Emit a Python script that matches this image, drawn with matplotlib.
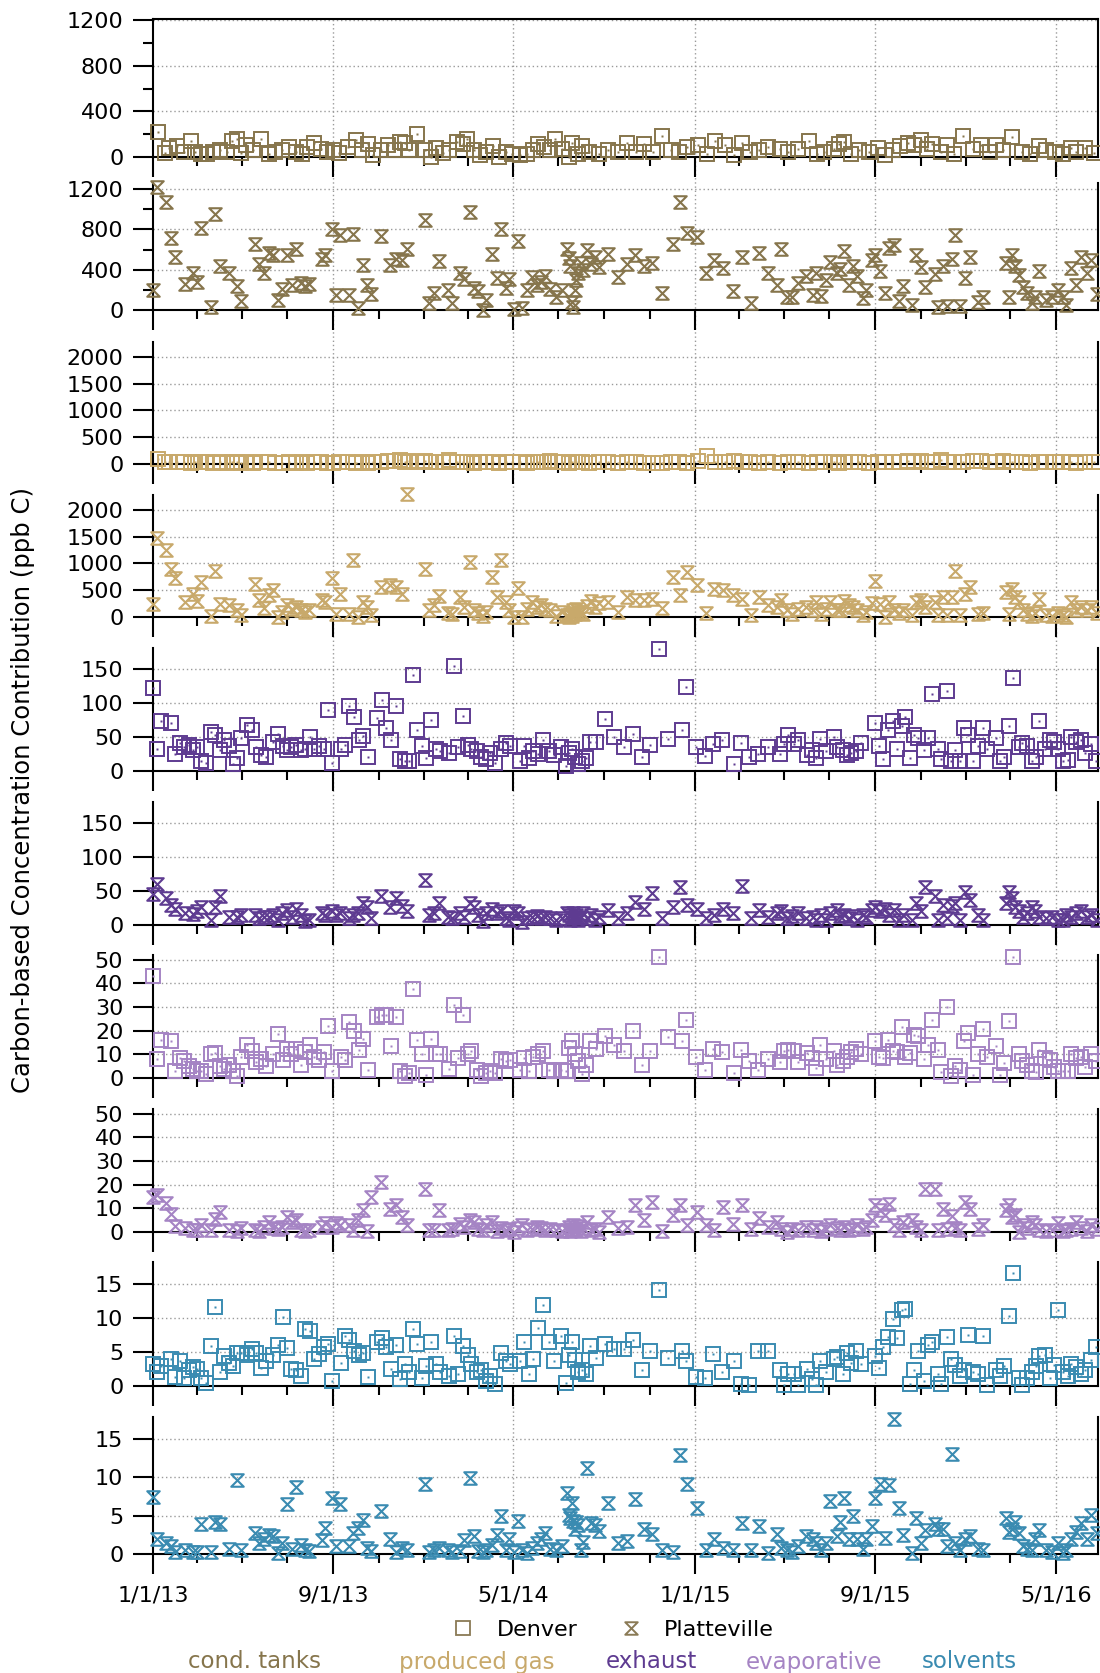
"""
Contributions des facteurs PMF (Denver / Platteville), 2013-2016
"""

import numpy as np
import matplotlib
matplotlib.use("Agg")
import matplotlib.pyplot as plt
import matplotlib.dates as mdates
from matplotlib.path import Path
from matplotlib.lines import Line2D
from matplotlib.ticker import FixedLocator, MultipleLocator, NullFormatter

# ---------------------------------------------------------------------------
# Données (jours depuis le 1/1/13)
# ---------------------------------------------------------------------------
den_days = [
    0, 6, 11, 24, 30, 36, 42, 48, 54, 59,
    65, 72, 78, 84, 90, 96, 102, 108, 113, 119,
    127, 133, 139, 145, 152, 162, 169, 175, 180, 186,
    193, 199, 205, 211, 217, 223, 230, 236, 241, 253,
    259, 264, 271, 277, 283, 289, 302, 308, 314, 320,
    327, 333, 339, 345, 350, 356, 363, 368, 374, 381,
    386, 399, 405, 411, 417, 424, 429, 436, 442, 448,
    454, 461, 469, 476, 481, 494, 500, 506, 512, 518,
    525, 533, 540, 550, 556, 560, 564, 568, 573, 578,
    583, 589, 597, 609, 621, 634, 646, 659, 669, 682,
    694, 713, 718, 731, 743, 754, 767, 782, 792, 803,
    815, 828, 845, 850, 856, 863, 869, 881, 888, 893,
    899, 906, 917, 922, 929, 935, 940, 947, 954, 972,
    978, 984, 990, 997, 1002, 1009, 1013, 1020, 1025, 1031,
    1038, 1044, 1050, 1057, 1062, 1069, 1075, 1081, 1087, 1093,
    1098, 1105, 1112, 1118, 1124, 1135, 1141, 1147, 1153, 1159,
    1166, 1171, 1178, 1184, 1189, 1194, 1201, 1208, 1214, 1219,
    1226, 1233, 1237, 1244, 1250, 1256, 1263, 1270,
]

ct_den_days = [
    7, 16, 22, 32, 42, 51, 57, 65, 73, 81,
    90, 100, 106, 113, 119, 125, 135, 146, 156, 164,
    174, 183, 193, 201, 207, 217, 226, 234, 242, 250,
    263, 273, 281, 289, 297, 307, 316, 325, 333, 339,
    345, 356, 366, 374, 381, 391, 399, 410, 417, 423,
    432, 440, 448, 458, 466, 476, 484, 494, 504, 512,
    518, 527, 535, 541, 551, 560, 565, 572, 578, 588,
    601, 613, 626, 638, 650, 661, 673, 685, 698, 708,
    720, 734, 746, 757, 770, 782, 793, 804, 817, 829,
    844, 856, 869, 884, 894, 904, 917, 924, 931, 940,
    951, 964, 976, 986, 997, 1006, 1017, 1025, 1034, 1042,
    1050, 1061, 1069, 1079, 1091, 1104, 1116, 1128, 1135, 1145,
    1157, 1170, 1182, 1193, 1203, 1215, 1226, 1236, 1244, 1256, 1267,
]

pla_days = [
    0, 6, 17, 24, 30, 43, 54, 59, 65, 78,
    83, 90, 102, 113, 119, 138, 143, 150, 156, 161,
    168, 174, 180, 187, 192, 199, 205, 210, 228, 232,
    241, 246, 252, 264, 270, 276, 283, 288, 294, 307,
    319, 327, 335, 342, 367, 372, 378, 385, 397, 403,
    414, 419, 427, 433, 438, 445, 449, 457, 463, 469,
    475, 480, 486, 492, 497, 504, 510, 517, 522, 528,
    535, 543, 551, 558, 560, 562, 565, 566, 568, 570,
    573, 576, 579, 584, 590, 595, 601, 613, 626, 638,
    649, 661, 672, 685, 700, 710, 720, 733, 745, 756,
    768, 781, 793, 805, 817, 828, 840, 846, 854, 861,
    869, 879, 889, 893, 900, 906, 912, 921, 925, 931,
    937, 943, 949, 957, 961, 968, 973, 980, 986, 992,
    998, 1005, 1010, 1023, 1028, 1034, 1040, 1053, 1058, 1064,
    1069, 1076, 1081, 1087, 1094, 1100, 1112, 1118, 1149, 1153,
    1157, 1161, 1166, 1172, 1178, 1184, 1188, 1194, 1203, 1211,
    1219, 1226, 1230, 1237, 1244, 1250, 1258, 1264, 1271,
]

# cond. tanks
ct_den = [
    221, 35, 83, 94, 44, 141, 44, 29, 24, 44,
    59, 44, 141, 162, 35, 103, 59, 162, 29, 44,
    59, 88, 44, 29, 88, 124, 74, 44, 59, 35,
    88, 153, 59, 118, 15, 65, 103, 59, 133, 124,
    59, 206, 65, 0, 83, 35, 65, 133, 118, 162,
    59, 15, 44, 94, 0, 44, 29, 15, 29, 59,
    118, 88, 59, 162, 74, 0, 124, 29, 94, 44,
    29, 59, 44, 124, 44, 112, 44, 183, 59, 44,
    88, 103, 24, 139, 103, 15, 124, 44, 59, 88,
    74, 44, 74, 141, 24, 44, 74, 112, 133, 29,
    59, 44, 83, 15, 59, 94, 124, 103, 147, 74,
    118, 44, 103, 29, 183, 74, 103, 44, 103, 65,
    171, 44, 24, 94, 59, 44, 24, 83, 44, 83, 35,
]
ct_pla = [
    200, 1220, 1067, 717, 527, 260, 367, 273, 817, 27,
    950, 440, 367, 240, 93, 650, 460, 367, 567, 550,
    100, 207, 550, 250, 607, 267, 240, 257, 507, 550,
    800, 150, 740, 150, 750, 23, 450, 250, 157, 733,
    450, 507, 493, 607, 893, 73, 173, 483, 200, 67,
    367, 307, 973, 217, 193, 0, 100, 560, 317, 807,
    223, 307, 7, 683, 23, 200, 327, 250, 273, 333,
    207, 133, 200, 607, 517, 433, 83, 33, 200, 300,
    367, 467, 400, 593, 460, 527, 427, 560, 323, 460,
    550, 433, 467, 167, 650, 1073, 767, 723, 367, 500,
    417, 190, 527, 67, 567, 367, 250, 607, 127, 133,
    267, 333, 150, 367, 140, 300, 473, 367, 407, 583,
    250, 433, 333, 117, 200, 493, 550, 383, 167, 617,
    640, 90, 240, 50, 550, 427, 233, 360, 33, 440,
    40, 507, 740, 40, 317, 523, 83, 127, 467, 127,
    550, 440, 350, 233, 167, 67, 127, 383, 100, 133,
    200, 127, 50, 417, 250, 527, 367, 493, 160,
]

# produced gas
pg_den = [
    100, 40, 30, 45, 35, 25, 40, 30, 35, 20,
    30, 25, 40, 35, 20, 30, 25, 35, 30, 20,
    25, 30, 20, 35, 25, 30, 40, 20, 25, 30,
    35, 25, 30, 20, 35, 40, 60, 50, 70, 45,
    55, 30, 65, 40, 30, 45, 80, 35, 40, 30,
    25, 40, 35, 30, 20, 35, 45, 30, 25, 40,
    30, 35, 60, 40, 30, 25, 40, 35, 30, 20,
    30, 40, 25, 35, 30, 20, 25, 15, 30, 35,
    25, 60, 140, 45, 35, 50, 30, 40, 25, 30,
    20, 35, 30, 25, 40, 30, 35, 25, 40, 30,
    35, 25, 30, 40, 35, 30, 50, 45, 60, 40,
    35, 70, 45, 30, 40, 50, 65, 35, 45, 55,
    40, 30, 25, 35, 30, 40, 45, 30, 25, 35, 30,
]
pg_pla = [
    250, 1469, 1250, 906, 737, 281, 437, 300, 656, 12,
    862, 250, 219, 125, 31, 625, 312, 175, 406, 500,
    0, 94, 219, 156, 187, 137, 94, 125, 325, 281,
    737, 50, 437, 50, 1062, 0, 281, 187, 31, 562,
    594, 562, 437, 2294, 906, 125, 219, 387, 75, 50,
    375, 187, 1031, 125, 75, 12, 94, 750, 375, 1062,
    281, 125, 0, 550, 0, 156, 281, 187, 219, 156,
    125, 12, 94, 31, 0, 62, 12, 125, 62, 156,
    100, 94, 62, 200, 300, 187, 262, 281, 94, 375,
    312, 325, 344, 175, 750, 406, 844, 594, 75, 531,
    500, 406, 344, 31, 375, 219, 187, 325, 125, 50,
    156, 187, 125, 281, 62, 156, 281, 137, 125, 300,
    219, 187, 125, 31, 94, 262, 675, 250, 0, 281,
    125, 75, 125, 31, 281, 325, 187, 281, 31, 375,
    31, 375, 862, 31, 437, 562, 62, 75, 469, 62,
    531, 375, 281, 125, 62, 12, 75, 344, 31, 12,
    75, 31, 0, 281, 125, 187, 137, 187, 75,
]

# exhaust
ex_den = [
    122, 33, 73, 71, 25, 41, 35, 38, 31, 35,
    15, 12, 57, 53, 31, 45, 37, 10, 19, 48,
    68, 61, 36, 24, 20, 43, 54, 37, 31, 36,
    38, 31, 33, 50, 33, 37, 32, 90, 12, 32,
    38, 96, 79, 45, 51, 21, 78, 105, 64, 45,
    95, 17, 15, 15, 142, 61, 37, 19, 75, 33,
    29, 27, 155, 35, 81, 38, 33, 29, 21, 17,
    26, 12, 33, 41, 37, 14, 37, 19, 29, 25,
    46, 29, 24, 36, 7, 26, 33, 21, 11, 15,
    19, 42, 42, 76, 50, 36, 55, 21, 38, 180,
    47, 60, 123, 36, 22, 40, 45, 10, 41, 20,
    25, 36, 25, 40, 53, 40, 45, 24, 31, 19,
    47, 30, 50, 35, 31, 24, 27, 30, 41, 70,
    37, 17, 60, 74, 33, 66, 79, 19, 53, 48,
    31, 48, 114, 33, 17, 118, 14, 31, 15, 64,
    53, 15, 37, 64, 32, 48, 15, 21, 66, 137,
    35, 41, 37, 14, 20, 73, 33, 45, 43, 32,
    15, 16, 50, 43, 46, 26, 40, 15,
]
ex_pla = [
    46, 61, 39, 29, 23, 18, 16, 20, 27, 7,
    27, 42, 12, 12, 15, 15, 11, 12, 12, 15,
    8, 17, 22, 12, 24, 15, 6, 7, 17, 15,
    20, 15, 17, 11, 15, 18, 32, 27, 11, 42,
    27, 39, 28, 20, 66, 15, 17, 32, 12, 11,
    17, 12, 32, 27, 15, 6, 17, 23, 17, 21,
    10, 7, 20, 17, 5, 10, 12, 13, 10, 12,
    11, 7, 10, 17, 15, 7, 12, 18, 10, 15,
    7, 12, 17, 10, 15, 7, 12, 22, 10, 17,
    34, 23, 47, 11, 27, 56, 29, 24, 10, 15,
    23, 17, 57, 10, 22, 12, 18, 21, 10, 13,
    18, 10, 12, 7, 15, 8, 18, 22, 13, 15,
    10, 13, 8, 15, 12, 22, 27, 20, 23, 15,
    22, 7, 15, 7, 32, 20, 56, 42, 7, 29,
    10, 28, 33, 7, 49, 37, 15, 8, 32, 49,
    39, 27, 20, 12, 17, 27, 20, 12, 10, 12,
    8, 7, 15, 12, 17, 20, 12, 15, 8,
]

# evaporative
ev_den = [
    43, 8, 16, 15.5, 3, 8.5, 7, 5, 4, 3,
    3, 1.5, 10, 10.5, 5, 4, 5.5, 3, 0.7, 8.7,
    14, 11.5, 6.8, 8, 5, 10, 18.6, 7.7, 12.4, 10,
    12.4, 5.4, 11, 14, 8.7, 7.7, 11, 22, 2.8, 9,
    7.7, 23.6, 20, 12, 16.6, 3.5, 26, 26.5, 26.5, 13.4,
    25.6, 2.8, 0.7, 2, 37.6, 16.2, 10, 1.4, 16.6, 10,
    10, 4, 31, 8.5, 26.8, 10, 11.5, 3.5, 0.7, 2,
    3, 2, 8, 7, 7.7, 3.5, 8.5, 3, 8.7, 10,
    11.5, 3.5, 3, 3.5, 3, 12.7, 15.8, 10, 7, 1.7,
    5.4, 15.5, 12.4, 17.6, 13.8, 11.5, 19.7, 5.4, 11.5, 51,
    17.2, 15.8, 24.6, 8.7, 3.5, 12.4, 11, 2, 12, 7.3,
    3.5, 8, 6.8, 11.5, 12, 11.5, 6.8, 10.5, 8.5, 4.2,
    13.8, 8, 11.5, 5.4, 7, 8.7, 11, 12.4, 10, 15.5,
    9, 8.5, 16.2, 11.3, 11, 21.4, 9, 10.5, 18.3, 17.6,
    8, 14, 24.6, 12, 2.5, 30, 0.7, 5, 3.5, 15.8,
    19, 1.4, 10, 20.8, 8.7, 13.4, 1.1, 6.3, 24, 51,
    10, 7.3, 5.6, 2.8, 2.5, 12, 8.5, 7.7, 4.5, 2.8,
    2.8, 2.8, 10, 8.5, 8.7, 4.5, 10, 7.3,
]
ev_pla = [
    14.8, 15.8, 12.4, 7.7, 2.5, 1.5, 0.7, 0.7, 3.1, 0.7,
    5.6, 8.4, 1.0, 0.3, 1.7, 0.7, 0.3, 2.0, 4.2, 1.5,
    1.4, 2.1, 6.3, 4.2, 4.9, 1.0, 0.5, 0.8, 2.1, 3.9,
    2.1, 3.9, 3.1, 3.1, 0.7, 4.9, 9.2, 0.3, 14.8, 21.1,
    9.9, 11.5, 6.3, 3.0, 18.0, 0.7, 0.7, 9.2, 0.7, 1.4,
    3.5, 2.1, 4.9, 4.2, 1.4, 0.7, 3.1, 4.2, 0.3, 1.7,
    0.7, 1.4, 0, 1.7, 2.8, 0.7, 1.4, 2.1, 1.7, 0.7,
    1.4, 0.7, 0.3, 1.0, 2.0, 0.5, 1.4, 3.0, 0.7, 1.0,
    2.5, 0.3, 1.7, 4.2, 1.0, 1.4, 0, 6.3, 1.7, 2.1,
    11.3, 4.9, 12.7, 0.3, 7.3, 11.5, 3.1, 8.4, 2.8, 0.7,
    10.6, 3.5, 11.3, 1.4, 5.9, 2.1, 4.2, 1.4, 0, 1.1,
    0.7, 2.1, 0.7, 2.1, 0.3, 1.4, 2.8, 1.7, 0.7, 2.1,
    0.7, 1.4, 2.8, 1.1, 2.1, 4.9, 11.3, 9.2, 7.3, 12.0,
    2.8, 0.7, 4.2, 4.9, 2.1, 0.7, 18.3, 18.3, 0.7, 9.9,
    1.4, 6.8, 1.7, 0.7, 12.7, 9.9, 1.4, 3.1, 9.2, 11.3,
    6.3, 7.3, 0, 3.1, 1.7, 4.2, 2.8, 0.7, 0.3, 0.7,
    3.9, 0.3, 0.7, 1.4, 4.2, 1.7, 0.3, 3.1, 1.4,
]

# solvents
so_den = [
    3.3, 2.1, 3.0, 4.0, 1.3, 3.6, 1.2, 2.3, 2.8, 2.5,
    1.2, 0.5, 5.9, 11.6, 2.1, 4.4, 3.4, 3.0, 4.9, 4.9,
    4.6, 5.4, 4.9, 2.6, 3.6, 4.6, 6.0, 10.1, 5.6, 2.5,
    2.3, 1.5, 8.4, 8.0, 3.9, 4.7, 5.7, 6.1, 0.8, 3.4,
    7.4, 6.8, 5.2, 4.5, 4.9, 1.3, 6.4, 7.0, 5.7, 2.5,
    6.0, 1.1, 3.3, 2.0, 8.4, 6.1, 1.2, 3.0, 6.4, 3.3,
    2.0, 1.5, 7.4, 1.8, 5.9, 4.6, 3.3, 2.1, 2.4, 0.8,
    1.5, 0.3, 4.9, 3.6, 3.3, 3.6, 6.4, 1.8, 3.9, 8.5,
    11.9, 6.4, 3.6, 7.4, 0.5, 4.5, 6.4, 3.8, 2.0, 2.3,
    1.8, 5.9, 4.1, 6.1, 5.4, 5.4, 6.8, 2.4, 5.1, 14.1,
    4.1, 5.2, 3.6, 1.3, 1.2, 4.7, 2.0, 3.6, 0.3, 0.2,
    5.2, 5.2, 2.4, 0.2, 1.7, 1.8, 0.1, 2.5, 1.0, 0.2,
    3.6, 2.0, 3.9, 4.3, 1.7, 4.9, 3.4, 5.2, 3.3, 4.4,
    2.6, 5.7, 7.2, 9.8, 7.0, 11.1, 11.3, 0.3, 2.3, 5.2,
    0.7, 6.0, 6.5, 1.8, 0.3, 7.2, 4.0, 3.1, 1.5, 2.3,
    7.5, 2.0, 1.8, 7.3, 0.1, 2.3, 1.5, 3.0, 10.3, 16.6,
    1.2, 0.2, 1.2, 2.0, 3.0, 4.4, 4.6, 1.2, 3.1, 11.2,
    2.0, 1.5, 3.3, 2.8, 1.8, 2.3, 3.8, 5.7,
]
so_pla = [
    7.5, 2.0, 1.5, 1.0, 0.3, 0.5, 0.2, 0.3, 3.9, 0.2,
    4.2, 3.9, 0.7, 9.7, 0.5, 2.8, 1.5, 2.0, 2.5, 2.3,
    0.1, 1.5, 6.5, 0.7, 8.7, 1.2, 0.5, 0.4, 1.8, 3.4,
    7.3, 1.0, 6.5, 1.1, 2.7, 3.4, 4.4, 0.8, 0.4, 5.6,
    2.0, 0.3, 0.8, 0.5, 9.1, 0.3, 0.5, 0.8, 0.5, 0.3,
    0.4, 1.8, 9.9, 2.4, 0.4, 0.3, 0.5, 1.2, 2.5, 4.9,
    0.5, 2.0, 0.3, 4.3, 0.5, 0.1, 0.8, 1.5, 2.0, 2.8,
    0.7, 0.5, 1.0, 8.0, 5.1, 4.7, 6.6, 4.3, 3.3, 4.2,
    3.8, 0.5, 1.6, 11.3, 4.0, 3.8, 3.0, 6.6, 1.5, 1.7,
    7.2, 3.3, 2.6, 0.5, 0.3, 13.0, 9.1, 6.0, 0.5, 2.0,
    0.8, 0.5, 4.0, 0.5, 3.7, 0.1, 2.6, 0.8, 0.5, 0.3,
    1.0, 2.4, 2.0, 1.5, 0.5, 1.5, 6.9, 2.4, 4.2, 7.3,
    2.0, 4.9, 2.0, 0.7, 2.0, 3.7, 7.3, 9.2, 2.1, 9.0,
    17.6, 6.0, 2.5, 0.1, 4.7, 1.5, 3.1, 3.9, 3.3, 3.3,
    1.0, 13.1, 1.5, 0.5, 2.0, 2.3, 0.7, 0.5, 4.7, 2.9,
    3.3, 4.2, 2.8, 1.0, 0.7, 0.5, 2.0, 3.1, 0.5, 0.3,
    1.4, 0.1, 0.5, 2.0, 2.9, 4.0, 2.0, 5.1, 2.8,
]

factor_names = ["cond. tanks", "produced gas", "exhaust", "evaporative", "solvents"]
factor_colors = ["#86754c", "#c8a96b", "#5e3b91", "#a584c4", "#3a8bb1"]
site_names = ["Denver", "Platteville"]

tick_dates = ["2013-01-01", "2013-09-01", "2014-05-01", "2015-01-01", "2015-09-01", "2016-05-01"]
tick_labels = ["1/1/13", "9/1/13", "5/1/14", "1/1/15", "9/1/15", "5/1/16"]

# ---------------------------------------------------------------------------
# Mise en page (pixels)
# ---------------------------------------------------------------------------
W, H = 1100, 1673
LEFT, RIGHT = 153, 1098
# (haut, bas, ymax, pas majeur, pas mineur)
PANELS = [
    (19, 157, 1210, 400, 200),
    (183, 310, 1260, 400, 200),
    (342, 464, 2275, 500, None),
    (495, 617, 2280, 500, None),
    (648, 771, 181, 50, None),
    (802, 925, 181, 50, None),
    (955, 1078, 52, 10, None),
    (1109, 1232, 52, 10, None),
    (1262, 1386, 18.2, 5, None),
    (1417, 1554, 17.9, 5, None),
]

plt.rcParams['font.family'] = ['DejaVu Sans']
FS = 16
GRID = dict(color="#9a9a9a", lw=1.0, linestyle=(0, (1, 2)))

X0 = mdates.date2num(np.datetime64("2013-01-01"))
XLIM = (X0, mdates.date2num(np.datetime64("2016-06-27")))
major_x = [mdates.date2num(np.datetime64(d)) for d in tick_dates]
minor_x = [mdates.date2num(np.datetime64(f"{y}-{m:02d}-01"))
           for y in range(2013, 2017) for m in (1, 3, 5, 7, 9, 11)]

HOURGLASS = Path([(-1, 1), (1, 1), (-1, -1), (1, -1), (-1, 1)],
                 [Path.MOVETO, Path.LINETO, Path.LINETO, Path.LINETO, Path.CLOSEPOLY])


def rect(top, bottom):
    return [LEFT / W, 1 - bottom / H, (RIGHT - LEFT) / W, (bottom - top) / H]


def draw_denver(ax, days, vals, color):
    x = X0 + np.asarray(days, dtype=float)
    ax.plot(x, vals, ls="none", marker="s", ms=9.4, mfc="none", mec=color,
            mew=1.4, clip_on=False, zorder=3)
    ax.plot(x, vals, ls="none", marker="s", ms=1.6, mfc=color, mec="none",
            clip_on=False, zorder=3)


def draw_platteville(ax, days, vals, color):
    x = X0 + np.asarray(days, dtype=float)
    ax.plot(x, vals, ls="none", marker=HOURGLASS, ms=9, mfc="none", mec=color,
            mew=1.5, clip_on=False, zorder=3)


fig = plt.figure(figsize=(W / 100, H / 100), dpi=100)

# lignes verticales de la grille, sur toute la hauteur
bg = fig.add_axes(rect(PANELS[0][0], PANELS[-1][1]))
bg.set_xlim(XLIM)
bg.set_ylim(0, 1)
bg.axis("off")
for xv in major_x[1:]:
    bg.axvline(xv, zorder=0, **GRID)

series = [
    (ct_den_days, ct_den, ct_pla),
    (ct_den_days, pg_den, pg_pla),
    (den_days, ex_den, ex_pla),
    (den_days, ev_den, ev_pla),
    (den_days, so_den, so_pla),
]

for i, (top, bottom, ymax, step, mstep) in enumerate(PANELS):
    ax = fig.add_axes(rect(top, bottom))
    ax.patch.set_alpha(0)
    f = i // 2
    color = factor_colors[f]
    dd, vden, vpla = series[f]
    if i % 2 == 0:
        draw_denver(ax, dd, vden, color)
    else:
        draw_platteville(ax, pla_days, vpla, color)

    ax.set_xlim(XLIM)
    ax.set_ylim(0, ymax)
    ax.yaxis.set_major_locator(MultipleLocator(step))
    if mstep:
        ax.yaxis.set_minor_locator(MultipleLocator(mstep))
    ax.yaxis.grid(True, which="major", zorder=0, **GRID)
    ax.set_axisbelow(True)

    ax.xaxis.set_major_locator(FixedLocator(major_x))
    ax.xaxis.set_minor_locator(FixedLocator(minor_x))
    if i == len(PANELS) - 1:
        ax.set_xticklabels(tick_labels)
    else:
        ax.xaxis.set_major_formatter(NullFormatter())
    ax.xaxis.set_minor_formatter(NullFormatter())

    for s in ("left", "right", "bottom"):
        ax.spines[s].set_linewidth(1.5)
    ax.spines["top"].set_visible(i == 0)
    ax.spines["top"].set_linewidth(1.5)

    ax.tick_params(axis="both", which="major", direction="out", length=14.4,
                   width=1.5, labelsize=FS, pad=7)
    ax.tick_params(axis="x", which="minor", direction="out", length=6.5,
                   width=1.5)
    ax.tick_params(axis="y", which="minor", direction="out", length=7.2,
                   width=1.5)
    ax.tick_params(axis="x", which="major", pad=8)
    ax.tick_params(right=False, top=False)

fig.text(23 / W, 1 - 790 / H, "Carbon-based Concentration Contribution (ppb C)",
         rotation=90, ha="center", va="center", fontsize=17.5)

# légende sites
leg_color = "#8a7a55"
handles = [
    Line2D([], [], ls="none", marker="s", ms=9.4, mfc="none", mec=leg_color, mew=1.3),
    Line2D([], [], ls="none", marker=HOURGLASS, ms=9, mfc="none", mec=leg_color, mew=1.4),
]
fig.legend(handles, site_names, loc="center", bbox_to_anchor=(612 / W, 1 - 1630 / H),
           ncol=2, frameon=False, fontsize=FS, handlelength=1.2, handletextpad=0.9,
           columnspacing=1.8, borderaxespad=0)

# légende facteurs
factor_x = [255, 477, 651, 814, 969]
for name, col, xc in zip(factor_names, factor_colors, factor_x):
    fig.text(xc / W, 1 - 1662 / H, name, color=col, ha="center", va="center",
             fontsize=16.5)

fig.savefig("out.png", dpi=100)
